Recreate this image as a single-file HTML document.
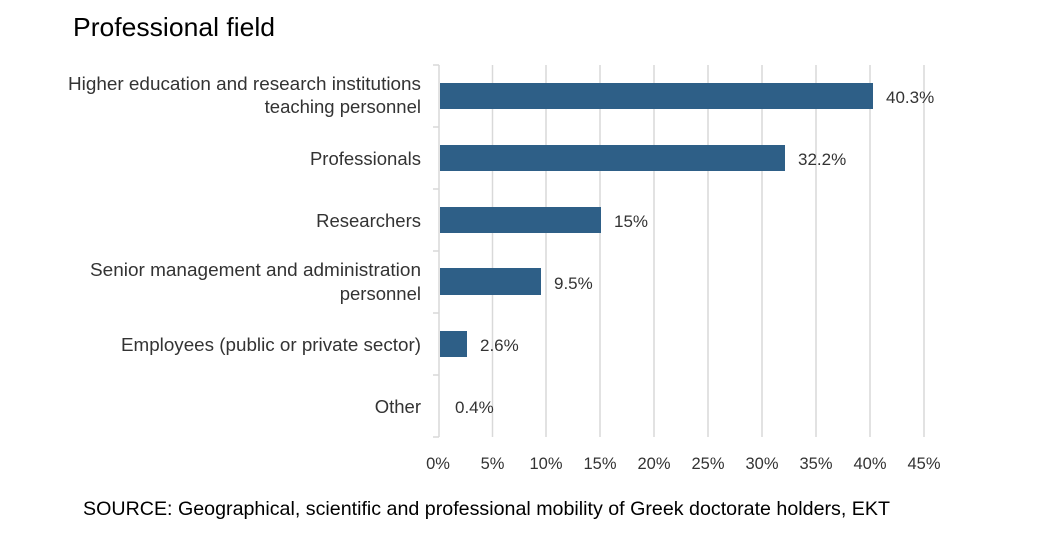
<!DOCTYPE html>
<html><head><meta charset="utf-8"><style>
body{margin:0;background:#fff;}
svg text{font-family:"Liberation Sans",sans-serif;}
</style></head><body>
<svg width="1043" height="536" viewBox="0 0 1043 536" xmlns="http://www.w3.org/2000/svg">
<rect width="1043" height="536" fill="#fff"/>
<text x="73" y="36" font-size="26" fill="#000" textLength="202" lengthAdjust="spacingAndGlyphs">Professional field</text>
<g stroke="#d9d9d9" stroke-width="1.5">
<line x1="492.5" y1="65" x2="492.5" y2="437"/>
<line x1="546" y1="65" x2="546" y2="437"/>
<line x1="600" y1="65" x2="600" y2="437"/>
<line x1="654" y1="65" x2="654" y2="437"/>
<line x1="708" y1="65" x2="708" y2="437"/>
<line x1="762" y1="65" x2="762" y2="437"/>
<line x1="816" y1="65" x2="816" y2="437"/>
<line x1="870" y1="65" x2="870" y2="437"/>
<line x1="924" y1="65" x2="924" y2="437"/>
<line x1="439" y1="65" x2="439" y2="437"/>
<line x1="433" y1="65" x2="439" y2="65"/>
<line x1="433" y1="127" x2="439" y2="127"/>
<line x1="433" y1="189" x2="439" y2="189"/>
<line x1="433" y1="251" x2="439" y2="251"/>
<line x1="433" y1="313" x2="439" y2="313"/>
<line x1="433" y1="375" x2="439" y2="375"/>
<line x1="433" y1="437" x2="439" y2="437"/>
</g>
<g fill="#2e5f87">
<rect x="440" y="83" width="433" height="26"/>
<rect x="440" y="145" width="345" height="26"/>
<rect x="440" y="207" width="161" height="26"/>
<rect x="440" y="268" width="101" height="27"/>
<rect x="440" y="331" width="27" height="26"/>
</g>
<g font-size="17" fill="#333">
<text x="886" y="103">40.3%</text>
<text x="798" y="165">32.2%</text>
<text x="614" y="227">15%</text>
<text x="554" y="289">9.5%</text>
<text x="480" y="351">2.6%</text>
<text x="455" y="413">0.4%</text>
</g>
<g font-size="18.5" fill="#333" text-anchor="end">
<text x="421" y="90" textLength="353" lengthAdjust="spacingAndGlyphs">Higher education and research institutions</text>
<text x="421" y="113">teaching personnel</text>
<text x="421" y="165">Professionals</text>
<text x="421" y="227">Researchers</text>
<text x="421" y="276" textLength="331" lengthAdjust="spacingAndGlyphs">Senior management and administration</text>
<text x="421" y="300">personnel</text>
<text x="421" y="351" textLength="300" lengthAdjust="spacingAndGlyphs">Employees (public or private sector)</text>
<text x="421" y="413">Other</text>
</g>
<g font-size="16.5" fill="#333" text-anchor="middle">
<text x="438" y="469">0%</text>
<text x="492.5" y="469">5%</text>
<text x="546" y="469">10%</text>
<text x="600" y="469">15%</text>
<text x="654" y="469">20%</text>
<text x="708" y="469">25%</text>
<text x="762" y="469">30%</text>
<text x="816" y="469">35%</text>
<text x="870" y="469">40%</text>
<text x="924" y="469">45%</text>
</g>
<text x="83" y="515" font-size="19.5" fill="#000" textLength="807" lengthAdjust="spacingAndGlyphs">SOURCE: Geographical, scientific and professional mobility of Greek doctorate holders, EKT</text>
</svg>
</body></html>
